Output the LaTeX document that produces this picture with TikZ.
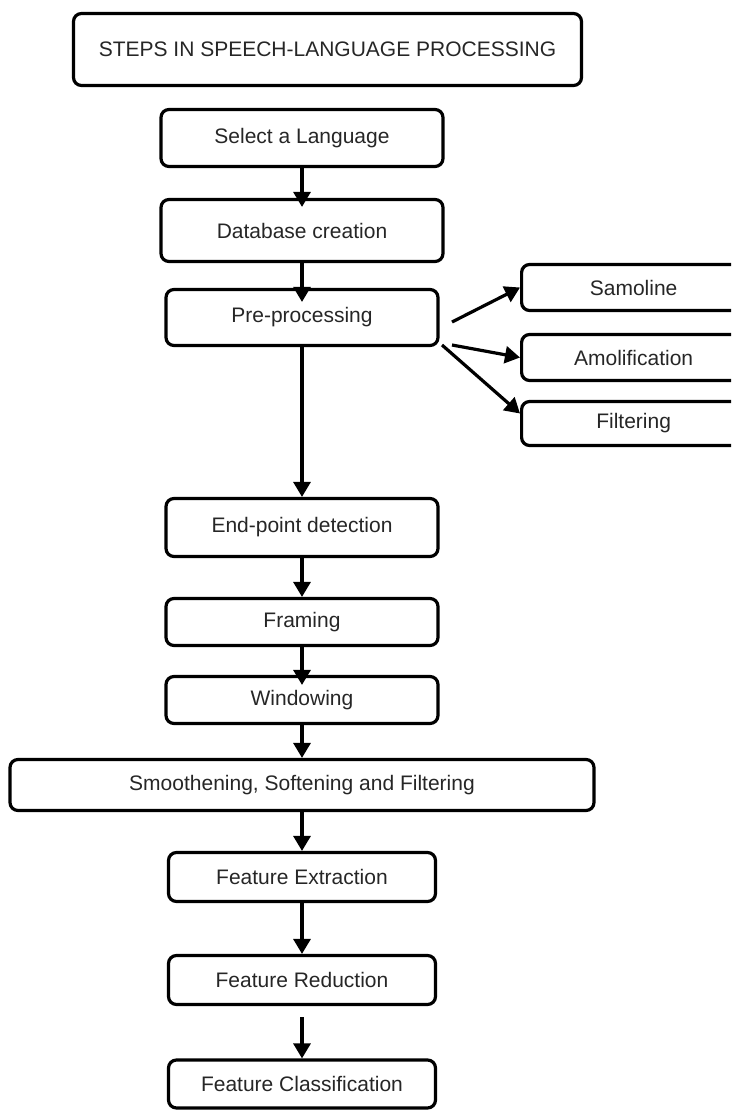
\documentclass[tikz,border=0pt]{standalone}
\usepackage{fontspec}
\setmainfont{Liberation Sans}
\usetikzlibrary{arrows.meta}
\tikzstyle{stepbox} = [rectangle, draw, inner sep=0pt, text centered,
    rounded corners=8pt, text=black!85, font=\fontsize{21}{25}\selectfont]
\tikzstyle{sidebox} = [stepbox, anchor=west, minimum width=224pt]

\begin{document}
\begin{tikzpicture}[->,>={Triangle[width=17pt,length=15pt]},line width=3.2pt,
                    x=1pt,y=-1pt,node distance=90pt]
  \path[use as bounding box,clip] (0,0) rectangle (731,1111);

  \node[stepbox,minimum width=508pt,minimum height=72pt] (title) at (327.5,49.5)
       {STEPS IN SPEECH-LANGUAGE PROCESSING};

  \node[stepbox,minimum width=282pt,minimum height=57pt] (sel) at (302,138) {Select a Language};
  \node[stepbox,minimum width=282pt,minimum height=62pt] (db)
       [below of=sel,node distance=92.5pt] {Database creation};
  \node[stepbox,minimum width=272pt,minimum height=56pt] (pre)
       [below of=db,node distance=87pt] {Pre-processing};
  \node[stepbox,minimum width=272pt,minimum height=58pt] (endp)
       [below of=pre,node distance=210pt] {End-point detection};
  \node[stepbox,minimum width=272pt,minimum height=47pt] (frm)
       [below of=endp,node distance=94.5pt] {Framing};
  \node[stepbox,minimum width=272pt,minimum height=47pt] (win)
       [below of=frm,node distance=78pt] {Windowing};
  \node[stepbox,minimum width=584pt,minimum height=51pt] (smooth)
       [below of=win,node distance=85pt] {Smoothening, Softening and Filtering};
  \node[stepbox,minimum width=267pt,minimum height=49pt] (fe)
       [below of=smooth,node distance=92pt] {Feature Extraction};
  \node[stepbox,minimum width=267pt,minimum height=49pt] (fr)
       [below of=fe,node distance=103pt] {Feature Reduction};
  \node[stepbox,minimum width=267pt,minimum height=48pt] (fc)
       [below of=fr,node distance=104pt] {Feature Classification};

  % pre-processing branches
  \node[sidebox,minimum height=46pt] (samo) at (520,287.5) {Samoline};
  \node[sidebox,minimum height=46pt] (amo)  at (520,357.5) {Amolification};
  \node[sidebox,minimum height=44pt] (filt) at (520,423.5) {Filtering};

  \coordinate (p1) at (452,322);
  \coordinate (p2) at (452,345);
  \coordinate (p3) at (442,345);

  \path (sel) edge [shorten >=-9pt] (db)
        (db) edge [shorten >=-14pt] (pre)
        (pre) edge (endp)
        (endp) edge (frm)
        (frm) edge [shorten >=-10pt] (win)
        (win) edge (smooth)
        (smooth) edge (fe)
        (fe) edge (fr)
        (fr) edge [shorten <=11pt] (fc);

  \draw (p1) -- (samo.west);
  \draw (p2) -- (amo.west);
  \draw (p3) -- ([yshift=10pt]filt.west);
\end{tikzpicture}
\end{document}
